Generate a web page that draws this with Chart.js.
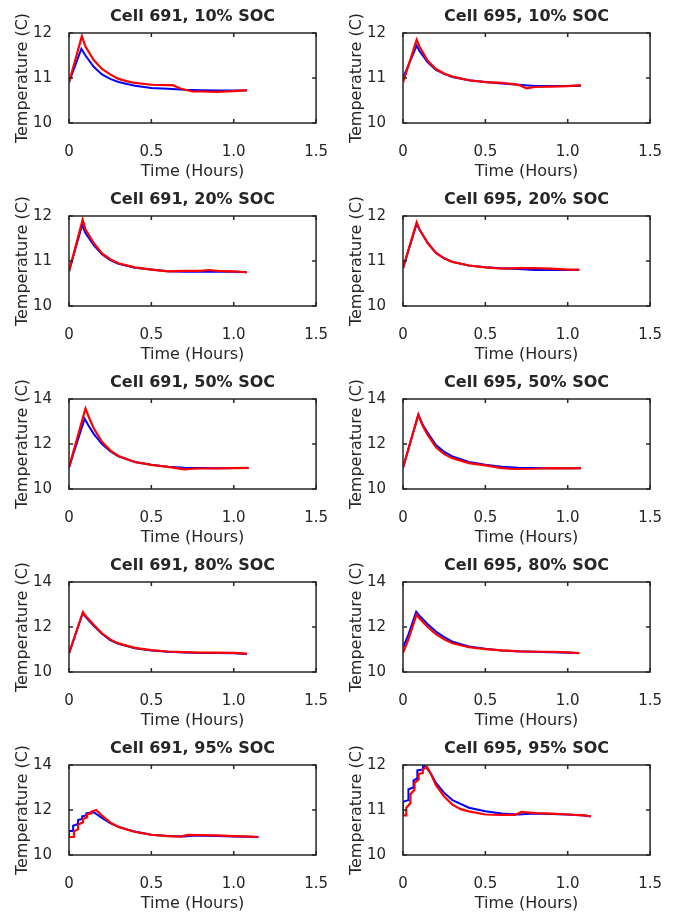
<!DOCTYPE html>
<html>
<head>
<meta charset="utf-8">
<title>Cell temperature</title>
<script src="https://cdn.jsdelivr.net/npm/chart.js@4.4.1/dist/chart.umd.min.js"></script>
<style>
  body { margin: 0; background: #fff; }
  #wrap { position: relative; width: 683px; height: 912px; }
  #wrap canvas { position: absolute; }
</style>
</head>
<body>
<div id="wrap"></div>
<script>
// panel titles, read left to right, top to bottom
var titles = ['Cell 691, 10% SOC', 'Cell 695, 10% SOC',
              'Cell 691, 20% SOC', 'Cell 695, 20% SOC',
              'Cell 691, 50% SOC', 'Cell 695, 50% SOC',
              'Cell 691, 80% SOC', 'Cell 695, 80% SOC',
              'Cell 691, 95% SOC', 'Cell 695, 95% SOC'];
var yTop = [12, 12, 12, 12, 14, 14, 14, 14, 14, 12];
var xTicks = [0, 0.5, 1, 1.5];

// [time (hours), temperature (C)]
var blue691_10 = [[0,10.9],[0.075,11.65],[0.1,11.5],[0.15,11.25],[0.2,11.08],[0.25,10.98],[0.3,10.91],[0.4,10.83],[0.5,10.78],[0.6,10.76],[0.7,10.74],[0.8,10.73],[0.9,10.72],[1.0,10.72],[1.08,10.72]];
var red691_10 = [[0,10.9],[0.078,11.93],[0.1,11.7],[0.15,11.4],[0.2,11.2],[0.25,11.08],[0.3,10.98],[0.35,10.93],[0.4,10.89],[0.5,10.85],[0.6,10.84],[0.63,10.84],[0.68,10.76],[0.75,10.7],[0.8,10.7],[0.9,10.69],[1.0,10.71],[1.08,10.73]];

var blue695_10 = [[0,11.0],[0.083,11.72],[0.1,11.6],[0.15,11.35],[0.2,11.18],[0.25,11.09],[0.3,11.02],[0.4,10.95],[0.5,10.91],[0.6,10.88],[0.7,10.85],[0.8,10.82],[0.9,10.82],[1.0,10.82],[1.08,10.83]];
var red695_10 = [[0,10.9],[0.083,11.85],[0.1,11.7],[0.15,11.38],[0.2,11.2],[0.25,11.1],[0.3,11.03],[0.4,10.95],[0.5,10.91],[0.6,10.89],[0.7,10.85],[0.75,10.77],[0.8,10.8],[0.9,10.81],[1.0,10.82],[1.08,10.84]];

var blue691_20 = [[0,10.77],[0.08,11.8],[0.1,11.62],[0.15,11.35],[0.2,11.15],[0.25,11.02],[0.3,10.94],[0.4,10.85],[0.5,10.81],[0.6,10.77],[0.7,10.76],[0.8,10.76],[0.9,10.76],[1.0,10.76],[1.08,10.75]];
var red691_20 = [[0,10.77],[0.083,11.92],[0.1,11.7],[0.15,11.4],[0.2,11.17],[0.25,11.04],[0.3,10.95],[0.4,10.86],[0.5,10.81],[0.6,10.77],[0.7,10.78],[0.8,10.78],[0.85,10.8],[0.9,10.78],[1.0,10.77],[1.08,10.75]];

var blue695_20 = [[0,10.84],[0.083,11.83],[0.1,11.7],[0.15,11.4],[0.2,11.18],[0.25,11.06],[0.3,10.98],[0.4,10.9],[0.5,10.86],[0.6,10.84],[0.7,10.82],[0.8,10.8],[0.9,10.8],[1.0,10.8],[1.07,10.8]];
var red695_20 = [[0,10.84],[0.083,11.86],[0.1,11.7],[0.15,11.4],[0.2,11.18],[0.25,11.06],[0.3,10.98],[0.4,10.9],[0.5,10.86],[0.6,10.83],[0.7,10.84],[0.8,10.84],[0.9,10.83],[1.0,10.81],[1.07,10.81]];

var blue691_50 = [[0,10.96],[0.095,13.12],[0.12,12.8],[0.15,12.45],[0.2,12.0],[0.25,11.68],[0.3,11.45],[0.4,11.2],[0.5,11.08],[0.6,10.99],[0.7,10.94],[0.8,10.93],[0.9,10.92],[1.0,10.93],[1.09,10.93]];
var red691_50 = [[0,10.96],[0.1,13.58],[0.12,13.2],[0.15,12.7],[0.2,12.1],[0.25,11.72],[0.3,11.47],[0.4,11.2],[0.5,11.07],[0.6,10.98],[0.7,10.87],[0.75,10.9],[0.8,10.91],[0.9,10.92],[1.0,10.93],[1.09,10.94]];

var blue695_50 = [[0,10.95],[0.093,13.3],[0.12,12.85],[0.15,12.5],[0.2,11.95],[0.25,11.65],[0.3,11.45],[0.4,11.2],[0.5,11.08],[0.6,10.99],[0.7,10.95],[0.8,10.93],[0.9,10.92],[1.0,10.92],[1.08,10.92]];
var red695_50 = [[0,10.95],[0.093,13.3],[0.12,12.8],[0.15,12.4],[0.2,11.85],[0.25,11.55],[0.3,11.37],[0.4,11.15],[0.5,11.05],[0.6,10.93],[0.67,10.89],[0.8,10.9],[0.9,10.93],[1.0,10.92],[1.08,10.93]];

var blue691_80 = [[0,10.83],[0.05,11.9],[0.083,12.62],[0.1,12.45],[0.15,12.05],[0.2,11.7],[0.25,11.42],[0.3,11.25],[0.4,11.05],[0.5,10.96],[0.6,10.9],[0.7,10.87],[0.8,10.84],[0.9,10.84],[1.0,10.83],[1.08,10.8]];
var red691_80 = [[0,10.83],[0.04,11.7],[0.085,12.66],[0.1,12.5],[0.15,12.1],[0.2,11.72],[0.25,11.45],[0.3,11.27],[0.4,11.07],[0.5,10.97],[0.6,10.91],[0.7,10.88],[0.8,10.86],[0.9,10.86],[1.0,10.85],[1.08,10.82]];

var blue695_80 = [[0,11.1],[0.03,11.6],[0.08,12.68],[0.1,12.5],[0.15,12.12],[0.2,11.8],[0.25,11.55],[0.3,11.35],[0.4,11.13],[0.5,11.03],[0.6,10.96],[0.7,10.92],[0.8,10.9],[0.9,10.88],[1.0,10.86],[1.07,10.84]];
var red695_80 = [[0,10.85],[0.03,11.4],[0.082,12.55],[0.1,12.38],[0.15,12.0],[0.2,11.68],[0.25,11.45],[0.3,11.28],[0.4,11.1],[0.5,11.02],[0.6,10.96],[0.7,10.92],[0.8,10.9],[0.9,10.9],[1.0,10.87],[1.07,10.84]];

var blue691_95 = [[0,10.85],[0,11.07],[0.025,11.07],[0.025,11.3],[0.055,11.38],[0.055,11.55],[0.08,11.6],[0.08,11.72],[0.105,11.76],[0.105,11.85],[0.13,11.88],[0.15,11.9],[0.2,11.65],[0.25,11.42],[0.3,11.25],[0.4,11.04],[0.5,10.9],[0.6,10.84],[0.7,10.82],[0.75,10.86],[0.8,10.85],[0.9,10.84],[1.0,10.82],[1.1,10.81],[1.15,10.8]];
var red691_95 = [[0,10.8],[0.03,10.8],[0.03,11.05],[0.055,11.15],[0.055,11.35],[0.085,11.45],[0.085,11.6],[0.11,11.68],[0.11,11.8],[0.135,11.85],[0.135,11.92],[0.165,12.0],[0.2,11.75],[0.25,11.45],[0.3,11.25],[0.4,11.02],[0.5,10.9],[0.6,10.84],[0.68,10.82],[0.72,10.89],[0.8,10.88],[0.9,10.87],[1.0,10.84],[1.1,10.82],[1.15,10.8]];

var blue695_95 = [[0,10.88],[0,11.18],[0.033,11.22],[0.033,11.46],[0.064,11.5],[0.064,11.66],[0.087,11.7],[0.087,11.88],[0.122,11.9],[0.122,12.0],[0.14,11.95],[0.17,11.8],[0.2,11.6],[0.25,11.38],[0.3,11.22],[0.4,11.05],[0.5,10.97],[0.6,10.92],[0.7,10.9],[0.8,10.92],[0.9,10.91],[1.0,10.9],[1.1,10.88],[1.14,10.86]];
var red695_95 = [[0,10.88],[0.02,10.88],[0.02,11.05],[0.045,11.15],[0.045,11.35],[0.07,11.45],[0.07,11.6],[0.095,11.68],[0.095,11.8],[0.12,11.82],[0.12,11.9],[0.145,11.96],[0.17,11.8],[0.2,11.55],[0.25,11.3],[0.3,11.12],[0.35,11.02],[0.4,10.97],[0.5,10.9],[0.6,10.89],[0.68,10.89],[0.72,10.96],[0.8,10.93],[0.9,10.92],[1.0,10.9],[1.1,10.88],[1.14,10.86]];

var blueSeries = [blue691_10, blue695_10, blue691_20, blue695_20, blue691_50, blue695_50, blue691_80, blue695_80, blue691_95, blue695_95];
var redSeries = [red691_10, red695_10, red691_20, red695_20, red691_50, red695_50, red691_80, red695_80, red691_95, red695_95];

var ink = '#262626';
var face = 'DejaVu Sans, sans-serif';

// matlab style box with inward ticks on all four sides
var boxPlugin = {
  id: 'box',
  afterDraw: function (chart) {
    var ctx = chart.ctx, a = chart.chartArea;
    var sx = chart.scales.x, sy = chart.scales.y;
    ctx.save();
    ctx.strokeStyle = ink;
    ctx.lineWidth = 1.5;
    ctx.strokeRect(a.left, a.top, a.right - a.left, a.bottom - a.top);
    ctx.beginPath();
    sx.ticks.forEach(function (t) {
      var px = sx.getPixelForValue(t.value);
      ctx.moveTo(px, a.bottom); ctx.lineTo(px, a.bottom - 4);
      ctx.moveTo(px, a.top); ctx.lineTo(px, a.top + 4);
    });
    sy.ticks.forEach(function (t) {
      var py = sy.getPixelForValue(t.value);
      ctx.moveTo(a.left, py); ctx.lineTo(a.left + 4, py);
      ctx.moveTo(a.right, py); ctx.lineTo(a.right - 4, py);
    });
    ctx.stroke();
    ctx.restore();
  }
};

var wrap = document.getElementById('wrap');
for (var i = 0; i < titles.length; i++) {
  var col = i % 2, row = Math.floor(i / 2);
  var cv = document.createElement('canvas');
  cv.width = 340; cv.height = 182;
  cv.style.left = (col === 0 ? 0 : 334) + 'px';
  cv.style.top = (row * 183) + 'px';
  wrap.appendChild(cv);

  new Chart(cv.getContext('2d'), {
    type: 'line',
    data: {
      datasets: [
        // red listed first so it is drawn on top of blue
        { data: redSeries[i], borderColor: '#ff0000', borderWidth: 2.2, pointRadius: 0, tension: 0 },
        { data: blueSeries[i], borderColor: '#0000ff', borderWidth: 2, pointRadius: 0, tension: 0 }
      ]
    },
    options: {
      responsive: false,
      animation: false,
      layout: { padding: { left: 0, right: col === 0 ? 16 : 13, top: 0, bottom: 0 } },
      plugins: {
        legend: { display: false },
        tooltip: { enabled: false },
        title: {
          display: true, text: titles[i], fullSize: false, color: ink,
          font: { family: face, size: 16, weight: 'bold' },
          padding: { top: 7, bottom: 6.8 }
        }
      },
      scales: {
        x: {
          type: 'linear', min: 0, max: 1.5,
          afterBuildTicks: function (s) { s.ticks = xTicks.map(function (v) { return { value: v }; }); },
          afterFit: function (s) { s.height = 59; },
          grid: { display: false },
          border: { display: false },
          ticks: { color: ink, padding: 12, font: { family: face, size: 15 }, maxRotation: 0 },
          title: { display: true, text: 'Time (Hours)', color: ink, font: { family: face, size: 16 }, padding: { top: 0, bottom: 1 } }
        },
        y: {
          min: 10, max: yTop[i],
          ticks: { stepSize: (yTop[i] - 10) / 2, color: ink, padding: 9, font: { family: face, size: 15 } },
          afterFit: function (s) { s.width = 69; },
          grid: { display: false },
          border: { display: false },
          title: { display: true, text: 'Temperature (C)', color: ink, font: { family: face, size: 16 }, padding: { top: 13, bottom: 0 } }
        }
      }
    },
    plugins: [boxPlugin]
  });
}
</script>
</body>
</html>
